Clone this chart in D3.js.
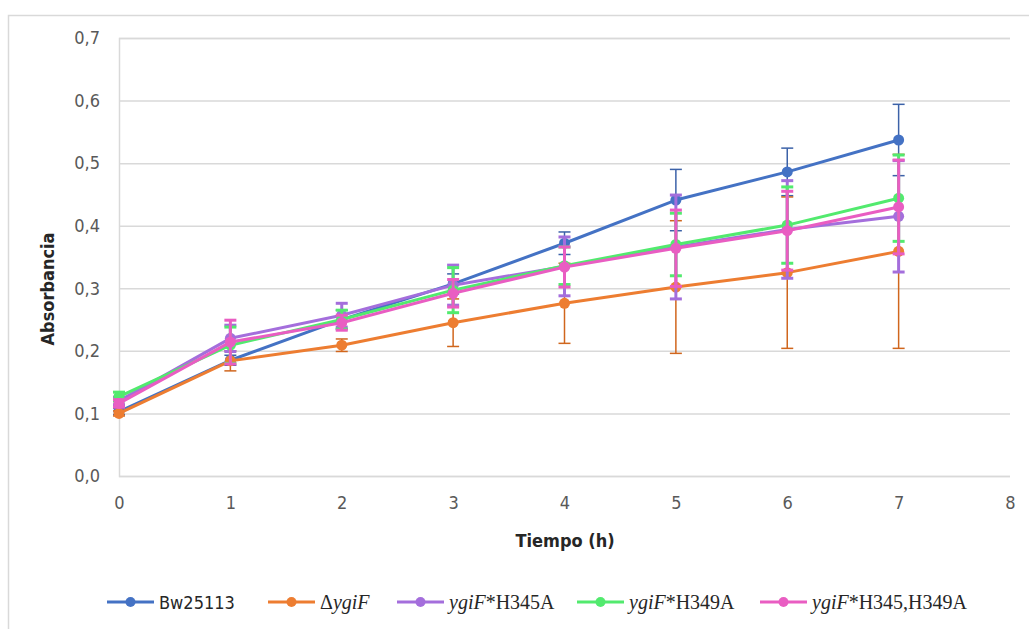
<!DOCTYPE html>
<html>
<head>
<meta charset="utf-8">
<script src="https://cdn.jsdelivr.net/npm/d3@7"></script>
<style>
  body { margin: 0; background: #fff; }
  svg { display: block; }
</style>
</head>
<body>
<svg id="chart" width="1029" height="629"></svg>
<script>
// data
var times = [0, 1, 2, 3, 4, 5, 6, 7];
var bwMean   = [0.103, 0.185, 0.250, 0.307, 0.372, 0.441, 0.486, 0.537];
var bwErr    = [0.005, 0.008, 0.015, 0.016, 0.018, 0.049, 0.038, 0.057];
var dMean    = [0.100, 0.184, 0.209, 0.245, 0.276, 0.302, 0.325, 0.359];
var dErr     = [0.004, 0.016, 0.010, 0.038, 0.064, 0.106, 0.121, 0.155];
var h345Mean = [0.120, 0.220, 0.257, 0.305, 0.335, 0.366, 0.394, 0.415];
var h345Err  = [0.006, 0.021, 0.019, 0.032, 0.047, 0.083, 0.078, 0.089];
var h349Mean = [0.127, 0.209, 0.250, 0.297, 0.336, 0.370, 0.401, 0.444];
var h349Err  = [0.007, 0.029, 0.015, 0.036, 0.030, 0.050, 0.061, 0.069];
var dblMean  = [0.116, 0.214, 0.245, 0.292, 0.334, 0.364, 0.392, 0.430];
var dblErr   = [0.006, 0.035, 0.012, 0.022, 0.032, 0.061, 0.063, 0.075];
var yTicks = [0, 0.1, 0.2, 0.3, 0.4, 0.5, 0.6, 0.7];
var xTicks = [0, 1, 2, 3, 4, 5, 6, 7, 8];

var series = [
  {mean: bwMean,   err: bwErr,   color: '#4472C4', errColor: '#3c62a8', errW: 1.5},
  {mean: dMean,    err: dErr,    color: '#ED7D31', errColor: '#d0661d', errW: 1.5},
  {mean: h345Mean, err: h345Err, color: '#A46EDC', errColor: '#A46EDC', errW: 3},
  {mean: h349Mean, err: h349Err, color: '#52EA6E', errColor: '#52EA6E', errW: 3},
  {mean: dblMean,  err: dblErr,  color: '#E95DC2', errColor: '#E95DC2', errW: 3}
];

var svg = d3.select('#chart');
var tickFont = "'Liberation Sans Narrow', 'DejaVu Sans Condensed', 'Open Sans', sans-serif";

// outer chart border (only left and top visible)
svg.append('rect').attr('x', 8.5).attr('y', 15.5).attr('width', 1100).attr('height', 700)
  .attr('fill', 'none').attr('stroke', '#d9d9d9').attr('stroke-width', 1.5);

var x = d3.scaleLinear().domain([0, 8]).range([119, 1010]);
var y = d3.scaleLinear().domain([0, 0.7]).range([476, 38]);

// gridlines
svg.append('g').attr('transform', 'translate(119,0)')
  .call(d3.axisLeft(y).tickValues(yTicks).tickSize(-(1010 - 119)).tickFormat(''))
  .call(function(g) {
    g.select('.domain').attr('stroke', '#d9d9d9').attr('stroke-width', 1.5);
    g.selectAll('.tick line').attr('stroke', '#d9d9d9').attr('stroke-width', 1.5);
  });

// y tick labels
svg.append('g').attr('transform', 'translate(100,0)')
  .call(d3.axisLeft(y).tickValues(yTicks).tickSize(0).tickPadding(0)
    .tickFormat(function(d) { return d3.format('.1f')(d).replace('.', ','); }))
  .call(function(g) {
    g.select('.domain').remove();
    g.selectAll('text').attr('fill', '#595959').style('font-family', tickFont).style('font-size', '18px');
  });

// x tick labels
svg.append('g').attr('transform', 'translate(0,476)')
  .call(d3.axisBottom(x).tickValues(xTicks).tickSize(0).tickPadding(20).tickFormat(d3.format('d')))
  .call(function(g) {
    g.select('.domain').remove();
    g.selectAll('text').attr('fill', '#595959').style('font-family', tickFont).style('font-size', '18px');
  });

// axis titles
svg.append('g').attr('transform', 'translate(54, 289)')
  .append('text').attr('text-anchor', 'middle').attr('transform', 'rotate(-90)')
  .style('font-family', tickFont).style('font-size', '18px').style('font-weight', 'bold')
  .attr('fill', '#262626').text('Absorbancia');
svg.append('text').attr('x', 565).attr('y', 547).attr('text-anchor', 'middle')
  .style('font-family', tickFont).style('font-size', '18px').style('font-weight', 'bold')
  .attr('fill', '#262626').text('Tiempo (h)');

var line = d3.line().x(function(d, i) { return x(times[i]); }).y(function(d) { return y(d); });

series.forEach(function(s) {
  var g = svg.append('g');
  // error bars
  s.mean.forEach(function(m, i) {
    var cx = x(times[i]);
    var y0 = y(m - s.err[i]), y1 = y(m + s.err[i]);
    g.append('line').attr('x1', cx).attr('x2', cx).attr('y1', y0).attr('y2', y1)
      .attr('stroke', s.errColor).attr('stroke-width', s.errW);
    [y0, y1].forEach(function(yy) {
      g.append('line').attr('x1', cx - 6).attr('x2', cx + 6).attr('y1', yy).attr('y2', yy)
        .attr('stroke', s.errColor).attr('stroke-width', s.errW);
    });
  });
  g.append('path').datum(s.mean).attr('d', line).attr('fill', 'none')
    .attr('stroke', s.color).attr('stroke-width', 3).attr('stroke-linejoin', 'round');
  g.selectAll('circle').data(s.mean).enter().append('circle')
    .attr('cx', function(d, i) { return x(times[i]); }).attr('cy', function(d) { return y(d); })
    .attr('r', 5.5).attr('fill', s.color);
});

// legend
var legendX = [107, 268, 397, 577, 760];
var legendY = 602;
var legendTexts = [
  [{t: 'Bw25113', sans: true}],
  [{t: '\u0394'}, {t: 'ygiF', it: true}],
  [{t: 'ygiF', it: true}, {t: '*H345A'}],
  [{t: 'ygiF', it: true}, {t: '*H349A'}],
  [{t: 'ygiF', it: true}, {t: '*H345,H349A'}]
];
series.forEach(function(s, k) {
  var lg = svg.append('g').attr('transform', 'translate(' + legendX[k] + ',' + legendY + ')');
  lg.append('line').attr('x1', 0).attr('x2', 47).attr('y1', 0).attr('y2', 0)
    .attr('stroke', s.color).attr('stroke-width', 3);
  lg.append('circle').attr('cx', 23.5).attr('cy', 0).attr('r', 5).attr('fill', s.color);
  var txt = lg.append('text').attr('x', 52).attr('y', 7).attr('fill', '#262626');
  legendTexts[k].forEach(function(p) {
    txt.append('tspan').text(p.t)
      .style('font-family', p.sans ? tickFont : "'Liberation Serif', 'DejaVu Serif', serif")
      .style('font-size', p.sans ? '18px' : '20px')
      .style('font-style', p.it ? 'italic' : 'normal');
  });
});
</script>
</body>
</html>
